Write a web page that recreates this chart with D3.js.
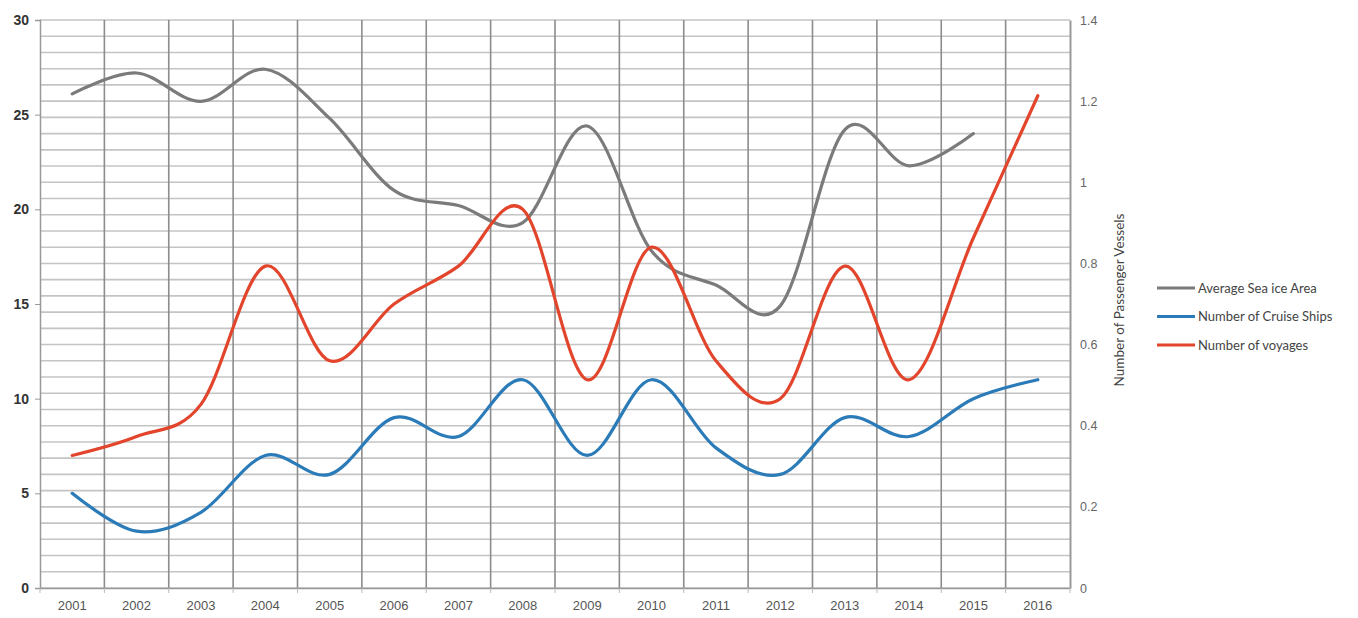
<!DOCTYPE html>
<html>
<head>
<meta charset="utf-8">
<script src="https://cdn.jsdelivr.net/npm/d3@7"></script>
<style>
  html, body { margin: 0; padding: 0; background: #ffffff; }
  svg { display: block; font-family: Lato, "Open Sans", "Liberation Sans", sans-serif; }
</style>
</head>
<body>
<svg id="chart" width="1358" height="618"></svg>
<script>
const years = ["2001","2002","2003","2004","2005","2006","2007","2008","2009","2010","2011","2012","2013","2014","2015","2016"];
const seaIce = [26.1, 27.2, 25.7, 27.4, 24.8, 21.0, 20.2, 19.3, 24.4, 17.8, 16.0, 14.9, 24.2, 22.3, 24.0, null];
const cruiseShips = [5, 3, 4, 7, 6, 9, 8, 11, 7, 11, 7.4, 6, 9, 8, 10, 11];
const voyages = [7, 8, 9.7, 17, 12, 15, 17, 20, 11, 18, 12, 10, 17, 11, 18.5, 26];
const leftTicks = [0, 5, 10, 15, 20, 25, 30];
const rightTicks = [0, 0.2, 0.4, 0.6, 0.8, 1, 1.2, 1.4];
const seriesNames = ["Average Sea ice Area", "Number of Cruise Ships", "Number of voyages"];
const seriesColors = ["#7b7b7b", "#2b7bb9", "#e2452b"];

const svg = d3.select("#chart");
const L = 40, R = 1070, T = 20, B = 588;

const x = d3.scaleBand().domain(years).range([L, R]).padding(0);
const y = d3.scaleLinear().domain([0, 30]).range([B, T]);
const yR = d3.scaleLinear().domain([0, 1.4]).range([B, T]);

// horizontal minor gridlines (right axis minor unit 0.04)
const gridVals = d3.range(0, 35).map(i => +(i * 0.04).toFixed(2)).concat([1.4]);
svg.append("g").selectAll("line").data(gridVals).join("line")
  .attr("x1", L).attr("x2", R)
  .attr("y1", d => yR(d)).attr("y2", d => yR(d))
  .attr("stroke", "#c4c4c4").attr("stroke-width", 1.6);

// vertical gridlines at category boundaries
svg.append("g").selectAll("line").data(years.slice(1)).join("line")
  .attr("x1", d => x(d)).attr("x2", d => x(d))
  .attr("y1", T).attr("y2", B)
  .attr("stroke", "#8c8c8c").attr("stroke-width", 1.6);

// left axis
const gL = svg.append("g").attr("transform", `translate(${L},0)`)
  .call(d3.axisLeft(y).tickValues(leftTicks).tickSize(5).tickPadding(6).tickFormat(d3.format("d")));
gL.select(".domain").attr("stroke", "#999").attr("stroke-width", 1.5);
gL.selectAll(".tick line").attr("stroke", "#999");
gL.selectAll("text").attr("font-size", 14).attr("font-weight", "bold").attr("fill", "#333");

// right axis
const gR = svg.append("g").attr("transform", `translate(${R},0)`)
  .call(d3.axisRight(yR).tickValues(rightTicks).tickSize(0).tickPadding(10).tickFormat(d => d3.format("~g")(d)));
gR.select(".domain").attr("stroke", "#999").attr("stroke-width", 2);
gR.selectAll("text").attr("font-size", 12.5).attr("fill", "#666");

// bottom axis
const gB = svg.append("g").attr("transform", `translate(0,${B})`)
  .call(d3.axisBottom(x).tickSize(0).tickPadding(13));
gB.select(".domain").attr("stroke", "#999").attr("stroke-width", 1.5);
gB.selectAll("text").attr("font-size", 13).attr("fill", "#555");
svg.append("g").selectAll("line").data(years.concat(["end"])).join("line")
  .attr("x1", d => d === "end" ? R : x(d)).attr("x2", d => d === "end" ? R : x(d))
  .attr("y1", B).attr("y2", B + 5).attr("stroke", "#bbb");

// right axis title
svg.append("text")
  .attr("transform", `translate(1124,${(T + B) / 2 - 4}) rotate(-90)`)
  .attr("text-anchor", "middle").attr("font-size", 13.5).attr("fill", "#444")
  .text("Number of Passenger Vessels");

// lines
const allSeries = [seaIce, cruiseShips, voyages];
const line = d3.line()
  .defined(d => d != null)
  .x((d, i) => x(years[i]) + x.bandwidth() / 2)
  .y(d => y(d))
  .curve(d3.curveCatmullRom.alpha(0));
svg.append("g").selectAll("path").data(allSeries).join("path")
  .attr("d", d => line(d))
  .attr("fill", "none")
  .attr("stroke", (d, i) => seriesColors[i])
  .attr("stroke-width", 3.2)
  .attr("stroke-linecap", "round")
  .attr("stroke-linejoin", "round");

// legend
const lg = svg.append("g").attr("transform", "translate(1157,288)");
const items = lg.selectAll("g").data(seriesNames).join("g")
  .attr("transform", (d, i) => `translate(0,${i * 28.5})`);
items.append("line").attr("x1", 0).attr("x2", 38).attr("y1", 0).attr("y2", 0)
  .attr("stroke", (d, i) => seriesColors[i]).attr("stroke-width", 3);
items.append("text").attr("x", 41).attr("y", 0).attr("dy", "0.35em")
  .attr("font-size", 13).attr("fill", "#444").text(d => d);
</script>
</body>
</html>
